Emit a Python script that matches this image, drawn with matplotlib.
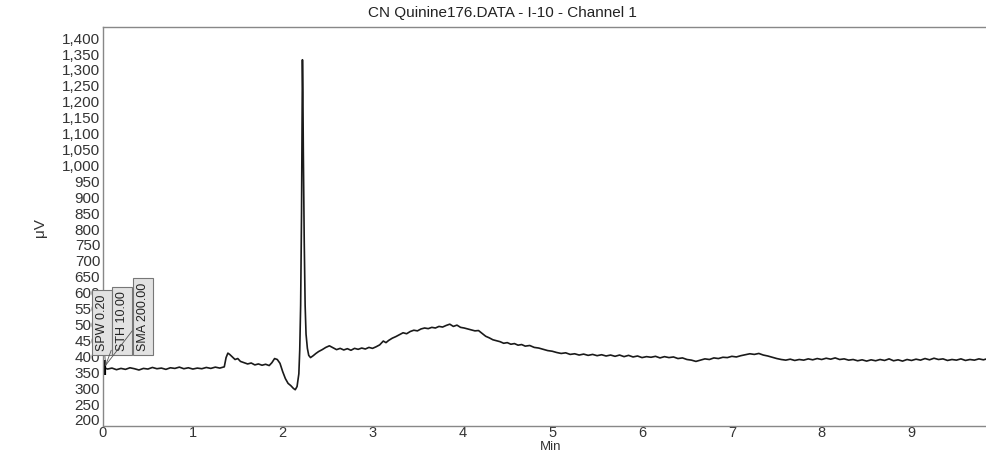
import numpy as np
import matplotlib
matplotlib.use("Agg")
import matplotlib.pyplot as plt
from matplotlib.ticker import FuncFormatter

plt.rcParams['font.family'] = ['Liberation Sans', 'DejaVu Sans']

# DATA
base_time = [round(0.05 * i, 2) for i in range(28)]
base_uv = [366, 360, 363, 358, 362, 359, 364, 361, 357, 362, 360, 365, 361, 363,
           359, 364, 362, 366, 361, 364, 360, 363, 361, 365, 362, 366, 363, 367]

peak_time = [1.37, 1.39, 1.41, 1.44, 1.47, 1.50, 1.53, 1.57, 1.61, 1.65, 1.69, 1.73,
             1.77, 1.81, 1.85, 1.88, 1.91, 1.94, 1.97, 2.00, 2.03, 2.06, 2.09, 2.12,
             2.14, 2.16, 2.18, 2.19, 2.20, 2.21, 2.215, 2.22, 2.225, 2.23, 2.24, 2.25,
             2.26, 2.275, 2.29, 2.31, 2.34, 2.37, 2.40, 2.44, 2.48, 2.52, 2.56, 2.60,
             2.64, 2.68, 2.72, 2.76, 2.80, 2.84, 2.88, 2.92, 2.96, 3.00, 3.04, 3.08,
             3.12, 3.15, 3.18, 3.22, 3.26, 3.30, 3.34, 3.38, 3.42, 3.46, 3.50, 3.54,
             3.58, 3.62, 3.66, 3.70, 3.74, 3.78, 3.82, 3.86, 3.90, 3.94, 3.98, 4.02,
             4.06, 4.10, 4.14, 4.18, 4.22, 4.26, 4.30, 4.34, 4.38, 4.42, 4.46, 4.50,
             4.54, 4.58, 4.62, 4.66, 4.70, 4.75, 4.80, 4.85, 4.90, 4.95]
peak_uv = [396, 410, 406, 398, 390, 393, 384, 380, 376, 379, 373, 376,
           372, 375, 371, 380, 393, 390, 378, 352, 330, 315, 308, 299,
           295, 305, 345, 420, 560, 850, 1120, 1332, 1230, 1040, 760, 560,
           470, 425, 403, 396, 402, 409, 415, 421, 428, 433, 427, 421,
           425, 420, 424, 419, 425, 422, 426, 423, 428, 425, 430, 436,
           448, 443, 450, 457, 462, 468, 474, 471, 478, 482, 480, 486,
           489, 487, 491, 489, 494, 492, 497, 501, 494, 498, 491, 489,
           486, 483, 480, 481, 472, 463, 458, 452, 449, 446, 441, 443,
           438, 440, 435, 437, 432, 434, 428, 426, 422, 418]

tail_time = [round(5.0 + 0.05 * i, 2) for i in range(99)]
tail_uv = [416, 412, 409, 411, 406, 408, 404, 407, 403, 406, 402, 405, 401, 404,
           400, 404, 399, 403, 398, 401, 396, 399, 397, 400, 395, 399, 396, 398,
           393, 395, 390, 388, 384, 388, 392, 390, 395, 393, 397, 396, 400, 398,
           402, 405, 408, 406, 409, 404, 401, 397, 393, 390, 388, 391, 387, 390,
           388, 392, 389, 393, 390, 394, 391, 395, 390, 392, 388, 390, 386, 389,
           385, 389, 386, 390, 387, 392, 386, 389, 385, 390, 387, 391, 388, 393,
           389, 394, 390, 392, 387, 390, 388, 392, 387, 390, 388, 392, 389, 393, 391]

time = base_time + peak_time + tail_time
uv = base_uv + peak_uv + tail_uv

yticks = list(range(200, 1401, 50))
xticks = list(range(0, 10))
labels = ["SPW 0.20", "STH 10.00", "SMA 200.00"]

# PLOT
fig = plt.figure(figsize=(9.87, 4.51), dpi=100)
ax = fig.add_axes([103 / 987, 1 - 426 / 451, 1 - 103 / 987, (426 - 27) / 451])

ax.plot(time, uv, color='#1a1a1a', lw=1.2)
ax.plot([0.015, 0.015], [340, 388], color='black', lw=3, solid_capstyle='butt')

ax.set_xlim(0, 9.84)
ax.set_ylim(181, 1435)
ax.set_yticks(yticks)
ax.set_xticks(xticks)
ax.yaxis.set_major_formatter(FuncFormatter(lambda v, p: f"{int(v):,}"))
ax.tick_params(axis='y', length=0, labelsize=11, labelcolor='#333333', pad=2)
ax.tick_params(axis='x', length=0, labelsize=10.5, labelcolor='#333333', pad=0)
for s in ['left', 'bottom', 'top']:
    ax.spines[s].set_color('#888888')
    ax.spines[s].set_linewidth(1.0)
ax.spines['right'].set_visible(False)

fig.text(551 / 987, 1 - 446.5 / 451, "Min", ha='center', va='center',
         fontsize=9.5, color='#333333')
fig.text(40 / 987, 1 - 228 / 451, "μV", rotation=90, ha='center', va='center',
         fontsize=11, color='#333333')
fig.text(502 / 987, 1 - 13 / 451, "CN Quinine176.DATA - I-10 - Channel 1",
         ha='center', va='center', fontsize=11, color='#222222')

box_x = [102, 122, 143]
for lab, bx in zip(labels, box_x):
    ax.annotate(lab, xy=(0.03, 372), xycoords='data',
                xytext=(bx, 451 - 351), textcoords='figure pixels',
                rotation=90, ha='center', va='bottom', fontsize=9, color='#222222',
                bbox=dict(boxstyle='square,pad=0.35', fc='#e2e2e2', ec='#777777', lw=0.8),
                arrowprops=dict(arrowstyle='-', color='#555555', lw=0.6,
                                shrinkA=0, shrinkB=0))

fig.savefig("out.png", dpi=100)
